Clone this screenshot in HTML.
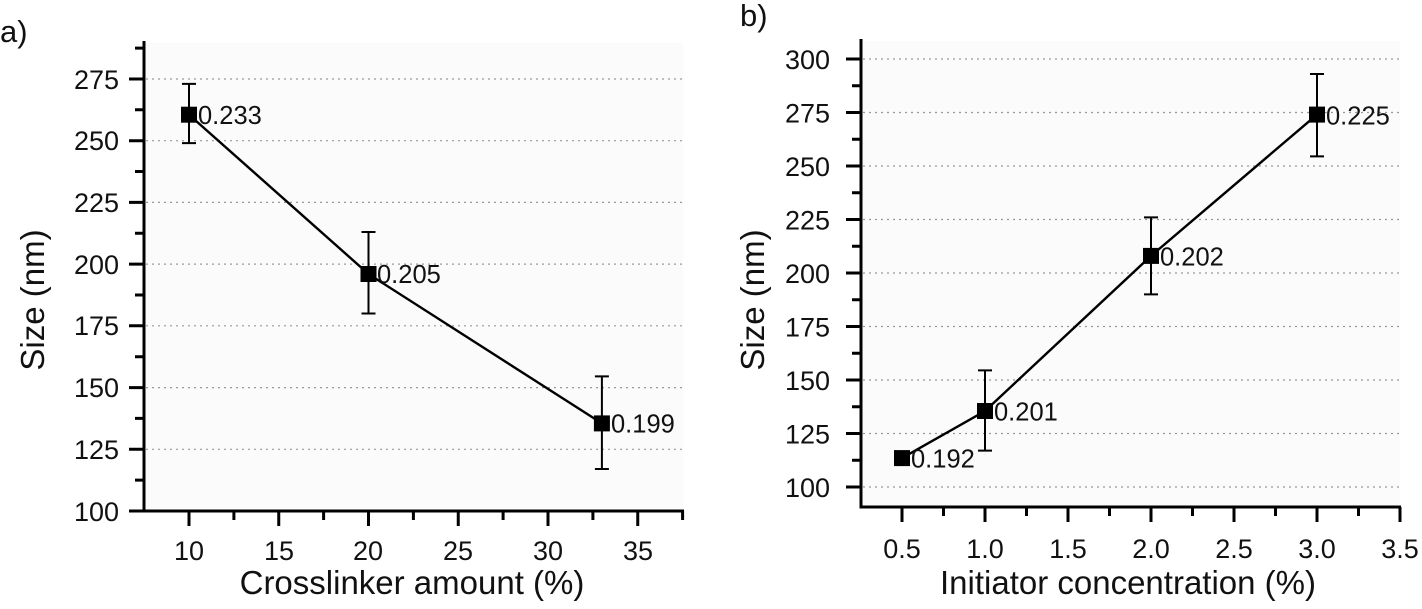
<!DOCTYPE html>
<html><head><meta charset="utf-8"><style>
html,body{margin:0;padding:0;background:#fff}
svg{display:block}
text{font-family:"Liberation Sans",Arial,sans-serif;fill:#111}
</style></head><body>
<svg width="1422" height="609" viewBox="0 0 1422 609" xmlns="http://www.w3.org/2000/svg">
<!-- Panel a -->
<rect x="145" y="43" width="538" height="468" fill="#fbfbfb"/>
<g stroke="#999" stroke-width="1.2" stroke-dasharray="2,4">
<line x1="146" x2="683" y1="449.3" y2="449.3"/><line x1="146" x2="683" y1="387.6" y2="387.6"/>
<line x1="146" x2="683" y1="325.8" y2="325.8"/><line x1="146" x2="683" y1="264.1" y2="264.1"/>
<line x1="146" x2="683" y1="202.4" y2="202.4"/><line x1="146" x2="683" y1="140.7" y2="140.7"/>
<line x1="146" x2="683" y1="79" y2="79"/>
</g>
<g stroke="#000" stroke-width="3" fill="none">
<path d="M144 41 V511 H684"/>
<path d="M144 511h-15M144 449.3h-15M144 387.6h-15M144 325.8h-15M144 264.1h-15M144 202.4h-15M144 140.7h-15M144 79h-15"/>
<path d="M144 480.1h-9M144 418.4h-9M144 356.7h-9M144 295h-9M144 233.3h-9M144 171.5h-9M144 109.8h-9M144 48.1h-9"/>
<path d="M189 511v15M278.75 511v15M368.5 511v15M458.25 511v15M548 511v15M637.75 511v15"/>
<path d="M233.9 511v9M323.6 511v9M413.4 511v9M503.1 511v9M592.9 511v9M682.6 511v9"/>
</g>
<g font-size="27" text-anchor="end">
<text x="119" y="521">100</text><text x="119" y="459">125</text><text x="119" y="397">150</text>
<text x="119" y="335">175</text><text x="119" y="274">200</text><text x="119" y="212">225</text>
<text x="119" y="150">250</text><text x="119" y="89">275</text>
</g>
<g font-size="27" text-anchor="middle">
<text x="189" y="560">10</text><text x="279" y="560">15</text><text x="368" y="560">20</text>
<text x="458" y="560">25</text><text x="548" y="560">30</text><text x="638" y="560">35</text>
</g>
<text x="412" y="594" font-size="33" text-anchor="middle">Crosslinker amount (%)</text>
<text transform="translate(44,300) rotate(-90)" font-size="33" text-anchor="middle">Size (nm)</text>
<text x="0" y="42" font-size="31">a)</text>
<polyline points="189,114.7 368.5,274 601.9,423.4" fill="none" stroke="#000" stroke-width="2.4"/>
<g stroke="#000" stroke-width="2">
<path d="M189 83.9V143.1M182 83.9h14M182 143.1h14"/>
<path d="M368.5 232V313.5M361.5 232h14M361.5 313.5h14"/>
<path d="M601.9 376.4V469M594.9 376.4h14M594.9 469h14"/>
</g>
<g fill="#000">
<rect x="181" y="106.7" width="16" height="16"/><rect x="360.5" y="266" width="16" height="16"/><rect x="593.9" y="415.4" width="16" height="16"/>
</g>
<g font-size="25.5">
<text x="198" y="124">0.233</text><text x="377" y="283">0.205</text><text x="611" y="432.5">0.199</text>
</g>

<!-- Panel b -->
<rect x="862" y="41" width="538" height="466" fill="#fbfbfb"/>
<g stroke="#999" stroke-width="1.2" stroke-dasharray="2,4">
<line x1="863" x2="1400" y1="487" y2="487"/><line x1="863" x2="1400" y1="433.5" y2="433.5"/>
<line x1="863" x2="1400" y1="380" y2="380"/><line x1="863" x2="1400" y1="326.5" y2="326.5"/>
<line x1="863" x2="1400" y1="273" y2="273"/><line x1="863" x2="1400" y1="219.5" y2="219.5"/>
<line x1="863" x2="1400" y1="166" y2="166"/><line x1="863" x2="1400" y1="112.5" y2="112.5"/>
<line x1="863" x2="1400" y1="59" y2="59"/>
</g>
<g stroke="#000" stroke-width="3" fill="none">
<path d="M861 39 V507 H1401"/>
<path d="M861 487h-15M861 433.5h-15M861 380h-15M861 326.5h-15M861 273h-15M861 219.5h-15M861 166h-15M861 112.5h-15M861 59h-15"/>
<path d="M861 460.25h-9M861 406.75h-9M861 353.25h-9M861 299.75h-9M861 246.25h-9M861 192.75h-9M861 139.25h-9M861 85.75h-9"/>
<path d="M902 507v15M985 507v15M1068 507v15M1151 507v15M1234 507v15M1317 507v15M1400 507v15"/>
<path d="M943.5 507v9M1026.5 507v9M1109.5 507v9M1192.5 507v9M1275.5 507v9M1358.5 507v9"/>
</g>
<g font-size="27" text-anchor="end">
<text x="830" y="497">100</text><text x="830" y="443.5">125</text><text x="830" y="390">150</text>
<text x="830" y="336.5">175</text><text x="830" y="283">200</text><text x="830" y="229.5">225</text>
<text x="830" y="176">250</text><text x="830" y="122.5">275</text><text x="830" y="69">300</text>
</g>
<g font-size="27" text-anchor="middle">
<text x="902" y="558">0.5</text><text x="985" y="558">1.0</text><text x="1068" y="558">1.5</text>
<text x="1151" y="558">2.0</text><text x="1234" y="558">2.5</text><text x="1317" y="558">3.0</text><text x="1400" y="558">3.5</text>
</g>
<text x="1128" y="594" font-size="33" text-anchor="middle">Initiator concentration (%)</text>
<text transform="translate(764,300) rotate(-90)" font-size="33" text-anchor="middle">Size (nm)</text>
<text x="740" y="26" font-size="31">b)</text>
<polyline points="902,458.1 985,411 1151,255.9 1317,114.6" fill="none" stroke="#000" stroke-width="2.4"/>
<g stroke="#000" stroke-width="2">
<path d="M985 370.4V450.6M978 370.4h14M978 450.6h14"/>
<path d="M1151 217.4V294.4M1144 217.4h14M1144 294.4h14"/>
<path d="M1317 74V156.4M1310 74h14M1310 156.4h14"/>
</g>
<g fill="#000">
<rect x="894" y="450.1" width="16" height="16"/><rect x="977" y="403" width="16" height="16"/>
<rect x="1143" y="247.9" width="16" height="16"/><rect x="1309" y="106.6" width="16" height="16"/>
</g>
<g font-size="25.5">
<text x="911" y="467.5">0.192</text><text x="994" y="420.5">0.201</text><text x="1160" y="265.5">0.202</text><text x="1326" y="124.5">0.225</text>
</g>
</svg>
</body></html>
